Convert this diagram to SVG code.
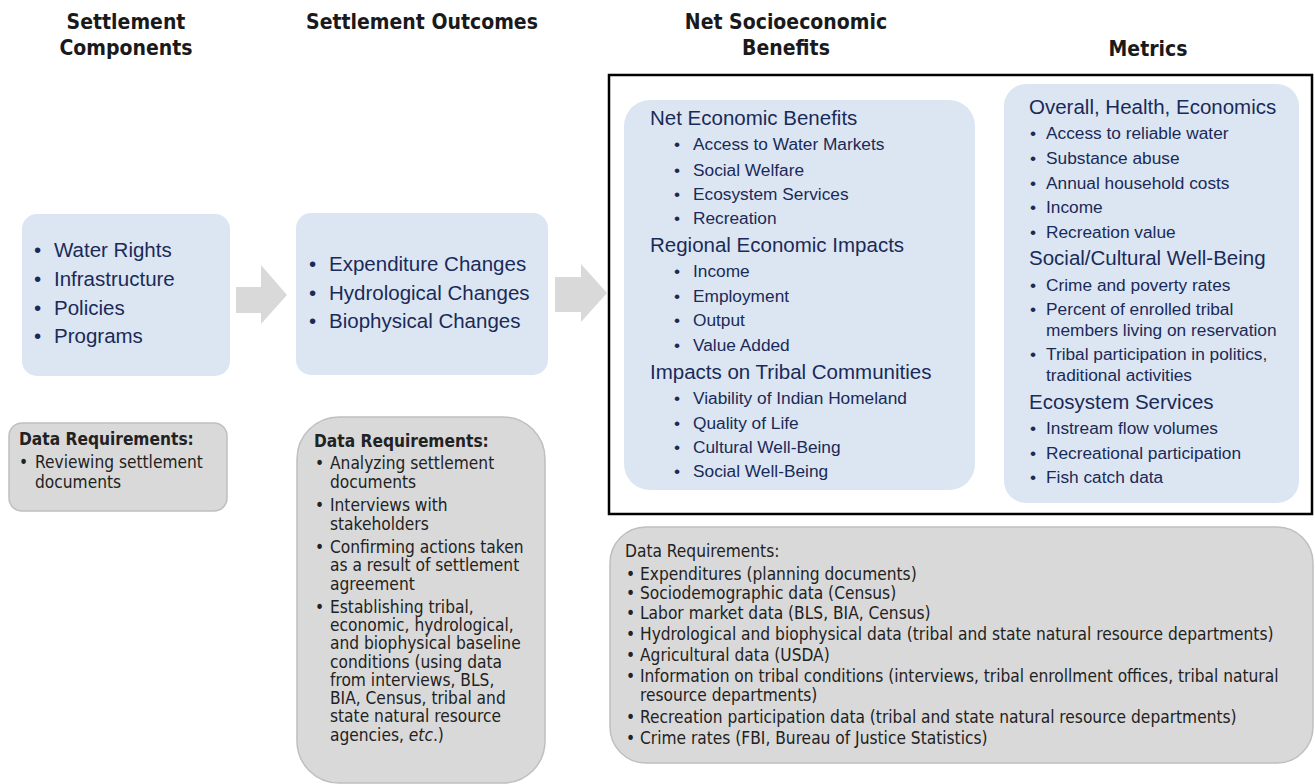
<svg xmlns="http://www.w3.org/2000/svg" width="1315" height="784" viewBox="0 0 1315 784">
<style>
.hdr{font-family:"DejaVu Sans Condensed","DejaVu Sans",sans-serif;font-stretch:condensed;font-weight:bold;font-size:21px;fill:#1a1a1a;text-anchor:middle}
.blue{fill:#dce6f2}
.gray{fill:#d9d9d9;stroke:#bfbfbf;stroke-width:1.5}
.arrow{fill:#d9d9d9}
.bt{font-family:"Liberation Sans",Arial,sans-serif;fill:#1a2a58}
.big{font-size:20.5px}
.sub{font-size:17.3px}
.dt{font-family:"DejaVu Sans Condensed","DejaVu Sans",sans-serif;font-stretch:condensed;fill:#222;font-size:17.2px}
.dh{font-weight:bold}
</style>

<g id="headers">
<text class="hdr" x="126" y="29">Settlement</text>
<text class="hdr" x="126" y="55">Components</text>
<text class="hdr" x="422" y="29">Settlement Outcomes</text>
<text class="hdr" x="786" y="29">Net Socioeconomic</text>
<text class="hdr" x="786" y="55">Benefits</text>
<text class="hdr" x="1148" y="56">Metrics</text>
</g>

<g id="frame">
<rect x="609" y="75" width="703" height="439" fill="none" stroke="#000" stroke-width="2.5"/>
</g>

<g id="connectors">
<polygon class="arrow" points="236,287 261,287 261,265 287,295 261,324 261,313 236,313"/>
<polygon class="arrow" points="555,277 581,277 581,264 607,293 581,322 581,312 555,312"/>
</g>

<g id="components">
<rect class="blue" x="22" y="214" width="208" height="162" rx="15"/>
<g class="bt big">
<text x="34" y="257">•</text><text x="54" y="257">Water Rights</text>
<text x="34" y="286">•</text><text x="54" y="286">Infrastructure</text>
<text x="34" y="315">•</text><text x="54" y="315">Policies</text>
<text x="34" y="343">•</text><text x="54" y="343">Programs</text>
</g>
</g>

<g id="outcomes">
<rect class="blue" x="296" y="213" width="252" height="162" rx="15"/>
<g class="bt big">
<text x="309" y="271">•</text><text x="329" y="271">Expenditure Changes</text>
<text x="309" y="300">•</text><text x="329" y="300">Hydrological Changes</text>
<text x="309" y="328">•</text><text x="329" y="328">Biophysical Changes</text>
</g>
</g>

<g id="benefits">
<rect class="blue" x="624" y="100" width="351" height="390" rx="26"/>
<g class="bt">
<text class="big" x="650" y="125">Net Economic Benefits</text>
<g class="sub">
<text x="674" y="150">•</text><text x="693" y="150">Access to Water Markets</text>
<text x="674" y="176">•</text><text x="693" y="176">Social Welfare</text>
<text x="674" y="200">•</text><text x="693" y="200">Ecosystem Services</text>
<text x="674" y="224">•</text><text x="693" y="224">Recreation</text>
</g>
<text class="big" x="650" y="252">Regional Economic Impacts</text>
<g class="sub">
<text x="674" y="277">•</text><text x="693" y="277">Income</text>
<text x="674" y="302">•</text><text x="693" y="302">Employment</text>
<text x="674" y="326">•</text><text x="693" y="326">Output</text>
<text x="674" y="351">•</text><text x="693" y="351">Value Added</text>
</g>
<text class="big" x="650" y="379">Impacts on Tribal Communities</text>
<g class="sub">
<text x="674" y="404">•</text><text x="693" y="404">Viability of Indian Homeland</text>
<text x="674" y="429">•</text><text x="693" y="429">Quality of Life</text>
<text x="674" y="453">•</text><text x="693" y="453">Cultural Well-Being</text>
<text x="674" y="477">•</text><text x="693" y="477">Social Well-Being</text>
</g>
</g>
</g>

<g id="metrics">
<rect class="blue" x="1004" y="84" width="295" height="419" rx="22"/>
<g class="bt">
<text class="big" x="1029" y="114">Overall, Health, Economics</text>
<g class="sub">
<text x="1030" y="139">•</text><text x="1046" y="139">Access to reliable water</text>
<text x="1030" y="164">•</text><text x="1046" y="164">Substance abuse</text>
<text x="1030" y="189">•</text><text x="1046" y="189">Annual household costs</text>
<text x="1030" y="213">•</text><text x="1046" y="213">Income</text>
<text x="1030" y="238">•</text><text x="1046" y="238">Recreation value</text>
</g>
<text class="big" x="1029" y="265">Social/Cultural Well-Being</text>
<g class="sub">
<text x="1030" y="291">•</text><text x="1046" y="291">Crime and poverty rates</text>
<text x="1030" y="315">•</text><text x="1046" y="315">Percent of enrolled tribal</text>
<text x="1046" y="336">members living on reservation</text>
<text x="1030" y="360">•</text><text x="1046" y="360">Tribal participation in politics,</text>
<text x="1046" y="381">traditional activities</text>
</g>
<text class="big" x="1029" y="409">Ecosystem Services</text>
<g class="sub">
<text x="1030" y="434">•</text><text x="1046" y="434">Instream flow volumes</text>
<text x="1030" y="459">•</text><text x="1046" y="459">Recreational participation</text>
<text x="1030" y="483">•</text><text x="1046" y="483">Fish catch data</text>
</g>
</g>
</g>

<g id="data-components">
<rect class="gray" x="9" y="423" width="218" height="88" rx="13"/>
<g class="dt">
<text class="dh" x="19" y="445">Data Requirements:</text>
<text x="19" y="468">•</text><text x="35" y="468">Reviewing settlement</text>
<text x="35" y="488">documents</text>
</g>
</g>

<g id="data-outcomes">
<rect class="gray" x="297" y="417" width="248" height="366" rx="42"/>
<g class="dt">
<text class="dh" x="314" y="447">Data Requirements:</text>
<text x="315" y="469">•</text><text x="330" y="469">Analyzing settlement</text>
<text x="330" y="488">documents</text>
<text x="315" y="511">•</text><text x="330" y="511">Interviews with</text>
<text x="330" y="530">stakeholders</text>
<text x="315" y="553">•</text><text x="330" y="553">Confirming actions taken</text>
<text x="330" y="571">as a result of settlement</text>
<text x="330" y="590">agreement</text>
<text x="315" y="613">•</text><text x="330" y="613">Establishing tribal,</text>
<text x="330" y="631">economic, hydrological,</text>
<text x="330" y="649">and biophysical baseline</text>
<text x="330" y="668">conditions (using data</text>
<text x="330" y="686">from interviews, BLS,</text>
<text x="330" y="704">BIA, Census, tribal and</text>
<text x="330" y="722">state natural resource</text>
<text x="330" y="741">agencies, <tspan font-style="italic">etc</tspan>.)</text>
</g>
</g>

<g id="data-benefits">
<rect class="gray" x="610" y="527" width="703" height="236" rx="36"/>
<g class="dt">
<text x="625" y="557">Data Requirements:</text>
<text x="626" y="580">•</text><text x="640" y="580">Expenditures (planning documents)</text>
<text x="626" y="599">•</text><text x="640" y="599">Sociodemographic data (Census)</text>
<text x="626" y="619">•</text><text x="640" y="619">Labor market data (BLS, BIA, Census)</text>
<text x="626" y="640">•</text><text x="640" y="640">Hydrological and biophysical data (tribal and state natural resource departments)</text>
<text x="626" y="661">•</text><text x="640" y="661">Agricultural data (USDA)</text>
<text x="626" y="682">•</text><text x="640" y="682">Information on tribal conditions (interviews, tribal enrollment offices, tribal natural</text>
<text x="640" y="701">resource departments)</text>
<text x="626" y="723">•</text><text x="640" y="723">Recreation participation data (tribal and state natural resource departments)</text>
<text x="626" y="744">•</text><text x="640" y="744">Crime rates (FBI, Bureau of Justice Statistics)</text>
</g>
</g>
</svg>
